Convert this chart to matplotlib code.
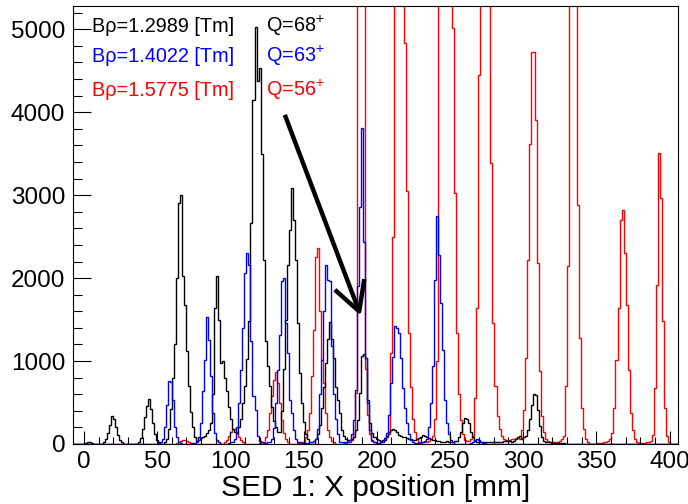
import numpy as np
import matplotlib
matplotlib.use("Agg")
import matplotlib.pyplot as plt
from matplotlib.ticker import MultipleLocator

# histogram binning (mm)
x_min, x_max, n_bins = -7.5, 405.8, 300

# (first bin, counts), Q=68+
black_segments = [
    (6, [10, 20, 20, 10]),
    (15, [20, 60, 130, 230, 340, 300, 200, 110, 50, 20]),
    (32, [20, 70, 180, 330, 460, 540, 420, 250, 120, 50, 20]),
    (45, [20, 60, 180, 420, 800, 1200, 2000, 2900, 3000, 2020, 1680, 1120, 700, 380, 200, 90, 40]),
    (62, [80, 70, 80, 100, 130, 170, 250, 600, 1640, 2030, 1500, 980, 1000, 800, 640, 450, 300, 180, 150, 130]),
    (82, [200, 300, 500, 700, 1020, 1480, 2670, 4150, 5030, 4370, 4530, 3490, 2220, 1240, 940, 700, 450, 280, 200, 150]),
    (102, [150, 400, 900, 1500, 2160, 2580, 3085, 2700, 2220, 1460, 860, 500, 260, 120, 60]),
    (120, [60, 120, 230, 440, 690, 980, 1260, 1466, 1260, 1040, 690, 530, 375, 170, 100, 60]),
    (136, [50, 50, 60, 80, 170, 290, 620, 1060, 1090, 1040, 530, 250, 130, 80, 60]),
    (151, [50, 40, 50, 70, 100, 140, 170, 180, 170, 140, 110, 100, 90, 80, 70, 60, 60, 50,
           50, 60, 70, 90, 110, 100, 90, 70, 60, 50, 50, 40, 40, 30, 30, 30, 40]),
    (186, [30, 30, 30, 40, 40, 80, 150, 250, 313, 300, 250, 150, 80, 40, 30]),
    (201, [30, 30, 25, 25, 30, 30, 25, 20, 20, 25, 30, 30, 35, 40, 40, 35, 30, 40, 60, 80, 100]),
    (222, [60, 80, 100, 170, 300, 474, 602, 590, 413, 212, 90, 40, 30, 20]),
    (236, [20, 20, 15, 15, 10, 10, 10, 10]),
]

# Q=63+
blue_segments = [
    (42, [10, 20, 60, 200, 474, 763, 750, 534, 200, 80, 30, 15]),
    (59, [10, 10, 20, 50, 255, 634, 1016, 1530, 1257, 815, 375, 133, 50, 20]),
    (77, [10, 20, 30, 60, 200, 500, 895, 1400, 2060, 2300, 2160, 1236, 574, 413, 92, 40]),
    (93, [20, 15, 15, 20, 30, 60, 190, 500, 895, 1317, 1960, 2000, 1460, 1100, 534, 375, 170, 60, 30, 20, 15]),
    (114, [10, 10, 15, 20, 30, 40, 60, 180, 600, 1016, 1600, 2160, 1980, 1960, 1176, 602, 300, 120, 30]),
    (133, [20, 20, 20, 30, 50, 120, 290, 654, 1900, 2857, 3815, 2440, 1036, 500, 170, 50, 20]),
    (150, [15, 15, 20, 30, 50, 130, 350, 740, 1053, 1425, 1400, 1340, 1040, 680, 437, 255, 120, 50, 20]),
    (169, [15, 15, 15, 20, 30, 40, 60, 200, 500, 935, 1980, 2750, 2280, 1700, 1136, 534, 257, 120, 50, 20]),
    (197, [10, 25, 45, 55, 45, 30, 15, 10]),
]

# Q=56+
red_segments = [
    (51, [10, 20, 35, 45, 45, 35, 20, 10]),
    (75, [20, 50, 100, 150, 184, 184, 150, 90, 50, 25]),
    (92, [10, 20, 30, 80, 172, 375, 574, 775, 863, 740, 500, 290, 133, 60, 25]),
    (111, [10, 15, 20, 30, 80, 172, 375, 815, 1377, 2260, 2362, 1600, 1016, 740, 375, 172, 80, 40, 20]),
    (134, [10, 15, 20, 30, 50, 120, 615, 7000, 12000, 11000, 6000, 900, 350, 120, 40, 20]),
    (151, [15, 20, 30, 50, 80, 120, 1095, 2500, 7000, 11000, 13000, 11000, 7500, 4830, 3044, 1340, 690, 300, 150, 60, 30]),
    (173, [20, 20, 30, 40, 60, 100, 300, 1000, 6000, 9000, 12000, 13000, 12000, 9000, 6000, 5016, 3025, 1340, 600, 290, 120, 50]),
    (195, [40, 40, 60, 100, 556, 1640, 4450, 7000, 10000, 12000, 10000, 7000, 3387, 1460, 694, 335, 180, 100, 60, 50]),
    (215, [50, 50, 60, 60, 70]),
    (220, [70, 60, 170, 413, 1036, 2220, 3620, 4720, 4730, 3906, 2180, 875, 335, 150, 60, 40, 30]),
    (238, [20, 20, 30, 40, 60, 100, 694, 2140, 7000, 10000, 9500, 6500, 2884, 1276, 437, 180, 60, 30]),
    (260, [10, 10, 15, 20, 30, 40, 60, 132, 434, 1016, 1639, 2703, 2815, 2301, 1679, 895, 374, 172, 60, 20]),
    (280, [10, 10, 10, 15, 20, 30, 40, 112, 675, 1920, 3506, 2964, 1477, 434, 100, 20]),
]

labels_brho = ["B\u03c1=1.2989 [Tm]", "B\u03c1=1.4022 [Tm]", "B\u03c1=1.5775 [Tm]"]
labels_q = ["Q=68$^{+}$", "Q=63$^{+}$", "Q=56$^{+}$"]
colors = ["black", "blue", "red"]


def fill_counts(segments):
    counts = np.zeros(n_bins)
    for start, values in segments:
        counts[start:start + len(values)] += values
    return counts


def main():
    plt.rcParams["font.family"] = ["Liberation Sans", "DejaVu Sans"]
    plt.rcParams["mathtext.default"] = "regular"

    edges = np.linspace(x_min, x_max, n_bins + 1)
    fig = plt.figure(figsize=(6.88, 5.04), dpi=100)
    ax = fig.add_axes([73 / 688, 60 / 504, 605 / 688, 438 / 504])

    ax.stairs(fill_counts(red_segments), edges, color="red", lw=1.0)
    ax.stairs(fill_counts(black_segments), edges, color="black", lw=1.0)
    ax.stairs(fill_counts(blue_segments), edges, color="blue", lw=1.0)

    ax.set_xlim(x_min, x_max)
    ax.set_ylim(0, 5280)
    ax.xaxis.set_major_locator(MultipleLocator(50))
    ax.xaxis.set_minor_locator(MultipleLocator(10))
    ax.yaxis.set_major_locator(MultipleLocator(1000))
    ax.yaxis.set_minor_locator(MultipleLocator(200))
    ax.tick_params(axis="both", which="both", direction="in", width=0.8,
                   top=False, right=False, labelsize=17.5)
    ax.tick_params(axis="y", which="major", length=13, pad=5.5)
    ax.tick_params(axis="y", which="minor", length=6.5)
    ax.tick_params(axis="x", which="major", length=9.4, pad=5)
    ax.tick_params(axis="x", which="minor", length=4.7)
    for spine in ax.spines.values():
        spine.set_linewidth(0.8)
    ax.set_xlabel("SED 1: X position [mm]", fontsize=21.5, labelpad=1)

    # labels
    baselines = [32.3, 61.7, 95.7]
    for i in range(3):
        fig.text(92 / 688, 1 - baselines[i] / 504, labels_brho[i], color=colors[i],
                 fontsize=14.3, va="baseline", ha="left")
        fig.text(266 / 688, 1 - baselines[i] / 504, labels_q[i], color=colors[i],
                 fontsize=14.3, va="baseline", ha="left")

    # arrow
    kw = dict(color="black", lw=3.2, solid_capstyle="butt")
    ax.plot([137.2, 188.0], [3968, 1598], **kw)
    ax.plot([171.4, 188.0, 191.5], [1859, 1598, 1988], **kw)

    fig.savefig("out.png", dpi=100)


if __name__ == "__main__":
    main()
